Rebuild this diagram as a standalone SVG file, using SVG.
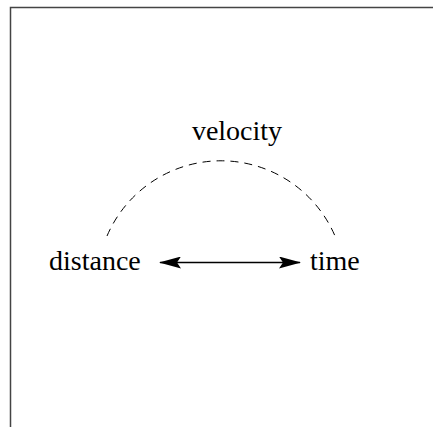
<svg xmlns="http://www.w3.org/2000/svg" width="433" height="427" viewBox="0 0 433 427">
<style>
text { font-family: "Liberation Serif", "Times New Roman", serif; font-size: 28px; fill: #000; }
.arc { fill: none; stroke: #000; stroke-width: 1; stroke-dasharray: 8 6; }
.arrow { fill: none; stroke: #000; stroke-width: 1.3; }
</style>
<defs>
<marker id="ah" viewBox="0 0 22 12" refX="21" refY="6" markerWidth="22" markerHeight="12" markerUnits="userSpaceOnUse" orient="auto-start-reverse">
<path d="M0,0 L22,6 L0,12 L4,6 Z" fill="#000"/>
</marker>
</defs>
<rect x="10.5" y="7.5" width="600" height="600" fill="#fff" stroke="#444" stroke-width="1.5"/>
<g id="connectors">
<path class="arc" d="M107,236 A124,124 0 0 1 335,236"/>
<line class="arrow" x1="160" y1="262.5" x2="300" y2="262.5" marker-start="url(#ah)" marker-end="url(#ah)"/>
</g>
<g id="velocity"><text x="237" y="139.5" text-anchor="middle">velocity</text></g>
<g id="distance"><text x="49" y="269.5">distance</text></g>
<g id="time"><text x="310" y="269.5">time</text></g>
</svg>
